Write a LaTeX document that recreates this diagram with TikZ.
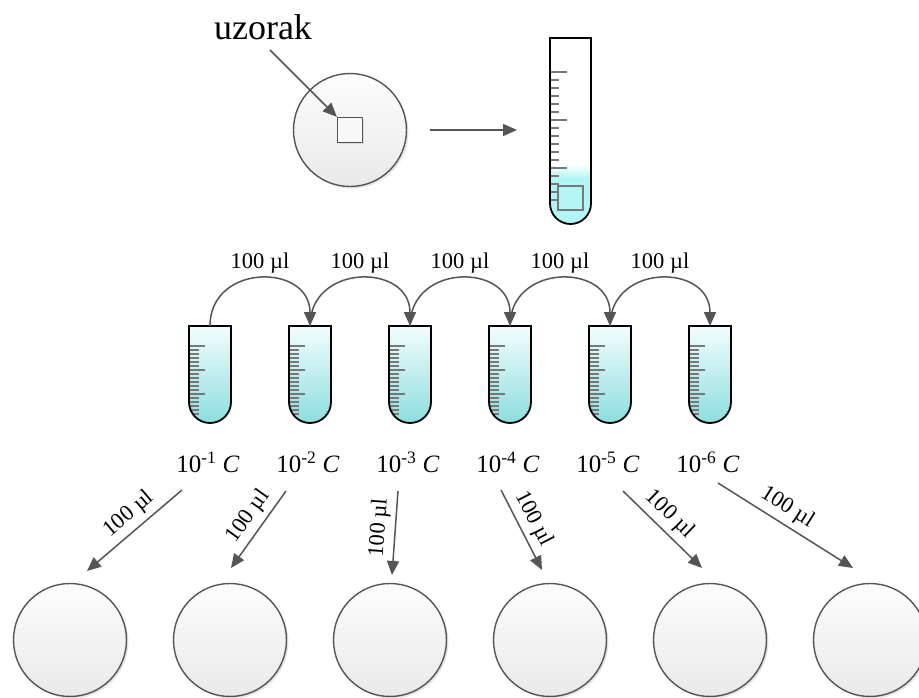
\documentclass[tikz,border=0pt]{standalone}
\usepackage{fontspec}
\setmainfont{Liberation Serif}
\usetikzlibrary{arrows.meta,shadows}

\definecolor{linegray}{RGB}{85,85,85}
\definecolor{tickgray}{RGB}{120,120,120}
\definecolor{liqtop}{RGB}{244,253,253}
\definecolor{liqbot}{RGB}{140,222,222}
\definecolor{liqbig}{RGB}{178,245,245}
\definecolor{platetop}{RGB}{253,253,253}
\definecolor{platebot}{RGB}{233,233,233}

\tikzset{
  arr/.style={draw=linegray, line width=1.5pt, -{Triangle[length=14pt,width=12pt]}},
  plate/.style={circle, draw=linegray, line width=1.4pt, minimum size=113pt, inner sep=0pt,
    top color=platetop, bottom color=platebot,
    drop shadow={shadow xshift=2pt, shadow yshift=-2pt, opacity=0.2, fill=gray}},
  sample/.style={draw=linegray, line width=1.3pt, fill=white!95!gray, minimum size=25pt, inner sep=0pt,
    drop shadow={shadow xshift=1.5pt, shadow yshift=-1.5pt, opacity=0.2, fill=gray}},
  vol/.style={font=\fontsize{22.5}{22.5}\selectfont, inner sep=3pt, text=black},
  conc/.style={font=\fontsize{25}{25}\selectfont, inner sep=0pt, text=black},
  tickline/.style={draw=tickgray, line width=1.2pt},
  tubeline/.style={draw=black, line width=1.8pt},
  smalltube/.pic={
    \path[shade, top color=liqtop, bottom color=liqbot]
      (-21,0) -- (-21,76) arc[start angle=180, end angle=0, radius=21] -- (21,0) -- cycle;
    \begin{scope}
      \clip (-21,0) -- (-21,76) arc[start angle=180, end angle=0, radius=21] -- (21,0) -- cycle;
      \foreach \k in {0,...,17}{
        \pgfmathtruncatemacro\m{mod(\k,6)}
        \ifnum\m=0 \def\L{16}\else\def\L{10}\fi
        \draw[tickline] (-21,20+4*\k) -- ++(\L,0);
      }
    \end{scope}
    \draw[tubeline] (-21,0) -- (-21,76) arc[start angle=180, end angle=0, radius=21] -- (21,0) -- cycle;
    \coordinate (-top) at (0,0);
  }
}

\begin{document}
\begin{tikzpicture}[x=1pt, y=-1pt]
\useasboundingbox (0,0) rectangle (919,697);

% sample plate with the cut-out square
\node[plate] (dish) at (350,130) {};
\node[sample] (sq) at (350,130) {};
\node[font=\fontsize{36}{36}\selectfont, inner sep=0pt] (uz) at (263,27) {uzorak};
\coordinate (us) at (270,50);
\draw[arr] (us) -- (sq.north west);

% large tube with the sample in liquid
\begin{scope}
  \path[fill=white] (550,38) -- (550,203.5) arc[start angle=180, end angle=0, radius=20.5] -- (591,38) -- cycle;
  \clip (550,38) -- (550,203.5) arc[start angle=180, end angle=0, radius=20.5] -- (591,38) -- cycle;
  \fill[liqbig] (545,178) rectangle (596,230);
  \shade[top color=white, bottom color=liqbig] (545,164) rectangle (596,178.5);
  \foreach \k in {0,...,16}{
    \pgfmathtruncatemacro\m{mod(\k,6)}
    \ifnum\m=0 \def\L{17}\else\def\L{9}\fi
    \draw[tickline] (550,72+8*\k) -- ++(\L,0);
  }
  \node[draw=tickgray, line width=1.2pt, minimum width=25pt, minimum height=24pt, inner sep=0pt] (sq2) at (570.5,198) {};
\end{scope}
\draw[tubeline] (550,38) -- (550,203.5) arc[start angle=180, end angle=0, radius=20.5] -- (591,38) -- cycle;
\coordinate (btl) at (550,130);
\draw[arr] ([xshift=23pt]dish.east) -- ([xshift=-33pt]btl);

% dilution series
\foreach \i/\c in {1/210,2/310,3/410,4/510,5/610,6/710}{
  \pic (t\i) at (\c,326) {smalltube};
  \node[conc] (c\i) at (\c-2,462) {10\textsuperscript{-\i} \textit{C}};
}
\foreach \a/\b in {1/2,2/3,3/4,4/5,5/6}{
  \draw[arr] (t\a-top) .. controls +(0,-63) and +(0,-63) .. (t\b-top)
    node[midway, above=2pt, vol] {100 µl};
}

% plating
\foreach \i/\c in {1/70,2/230,3/390,4/550,5/710,6/870}{
  \node[plate] (p\i) at (\c,640) {};
}
\coordinate (s1) at (182,490); \coordinate (e1) at (87,571);
\coordinate (s2) at (286,491); \coordinate (e2) at (231,568);
\coordinate (s3) at (398,491); \coordinate (e3) at (392,575);
\coordinate (s4) at (501,490); \coordinate (e4) at (542,570);
\coordinate (s5) at (623,491); \coordinate (e5) at (702,568);
\coordinate (s6) at (718,483); \coordinate (e6) at (853,568);
\foreach \i in {1,...,6}{
  \draw[arr] (s\i) -- (e\i) node[pos=0.45, sloped, above, vol, inner sep=5pt] {100 µl};
}
\end{tikzpicture}
\end{document}
